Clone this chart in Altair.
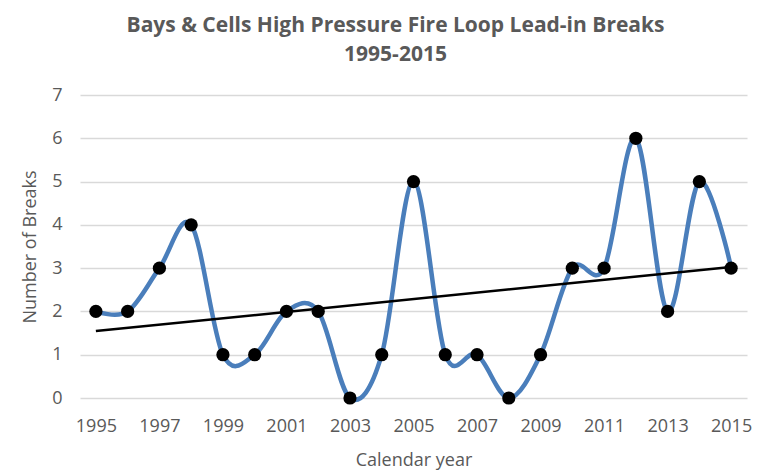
import altair as alt
import pandas as pd

years = list(range(1995, 2016))
breaks = [2, 2, 3, 4, 1, 1, 2, 2, 0, 1, 5, 1, 1, 0, 1, 3, 3, 6, 2, 5, 3]
x_ticks = [1995, 1997, 1999, 2001, 2003, 2005, 2007, 2009, 2011, 2013, 2015]
y_ticks = [0, 1, 2, 3, 4, 5, 6, 7]

df = pd.DataFrame({"year": years, "breaks": breaks})

FONT = "Open Sans"
GRAY = "#595959"

x = alt.X("year:Q", scale=alt.Scale(domain=[1994.5, 2015.5], nice=False, zero=False),
          axis=alt.Axis(values=x_ticks, format="d", title="Calendar year", grid=False,
                        domain=False, ticks=False, labelPadding=19, titlePadding=16))
y = alt.Y("breaks:Q", scale=alt.Scale(domain=[0, 7], nice=False),
          axis=alt.Axis(values=y_ticks, title="Number of Breaks", domain=False, ticks=False,
                        labelPadding=18, titlePadding=12))

base = alt.Chart(df)
line = base.mark_line(interpolate="cardinal", color="#4A7EBB", strokeWidth=4.5).encode(x=x, y=y)
pts = base.mark_point(filled=True, color="black", size=175, opacity=1).encode(x=x, y=y)
trend = base.transform_regression("year", "breaks", extent=[1995, 2015]).mark_line(
    color="black", strokeWidth=2.5).encode(x=x, y=y)

chart = alt.layer(line, trend, pts).properties(
    width=667, height=303,
    title=alt.TitleParams(["Bays & Cells High Pressure Fire Loop Lead-in Breaks", "1995-2015"],
                          font=FONT, fontSize=21, fontWeight="bold", color=GRAY,
                          anchor="middle", dx=-18, offset=21, lineHeight=29),
    autosize=alt.AutoSizeParams(type="none"),
    padding={"left": 72, "top": 87, "right": 13, "bottom": 74},
).configure_axis(
    labelFont=FONT, titleFont=FONT, labelFontSize=18, titleFontSize=18,
    labelColor=GRAY, titleColor=GRAY, titleFontWeight="normal",
    gridColor="#d9d9d9", gridWidth=1.5,
).configure_view(stroke=None)

chart.save("out.html", embed_options={"renderer": "svg", "actions": False})
